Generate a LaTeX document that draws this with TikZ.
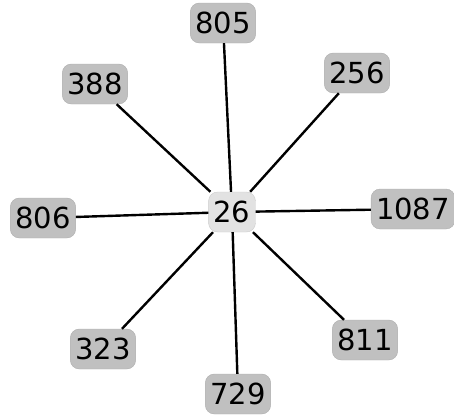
\documentclass[tikz,border=0pt]{standalone}
\usepackage{fontspec}
\setmainfont{DejaVu Sans}
\definecolor{outerfill}{HTML}{C0C0C0}
\definecolor{innerfill}{HTML}{E2E2E2}
\begin{document}
\begin{tikzpicture}[x=1pt,y=1pt,
  leaf/.style={rounded corners=9pt, fill=outerfill, draw=outerfill!90!black, line width=0.4pt, inner sep=5pt, minimum height=40pt, font=\fontsize{29}{31}\selectfont},
  hub/.style={leaf, fill=innerfill, draw=innerfill!90!black},
  link/.style={line width=2.4pt, black}]
\useasboundingbox (0,0) rectangle (454,-418);
\node[hub]  (c) at (232,-212) {26};
\node[leaf] (n805) at (223,-23) {805};
\node[leaf] (n388) at (95,-84) {388};
\node[leaf] (n256) at (357,-73) {256};
\node[leaf] (n806) at (43,-218) {806};
\node[leaf] (n1087) at (413,-209) {1087};
\node[leaf] (n323) at (103,-349) {323};
\node[leaf] (n811) at (365,-340) {811};
\node[leaf] (n729) at (238,-394) {729};
\foreach \n in {n805,n388,n256,n806,n1087,n323,n811,n729}
  \draw[link] (c) -- (\n);
\end{tikzpicture}
\end{document}
